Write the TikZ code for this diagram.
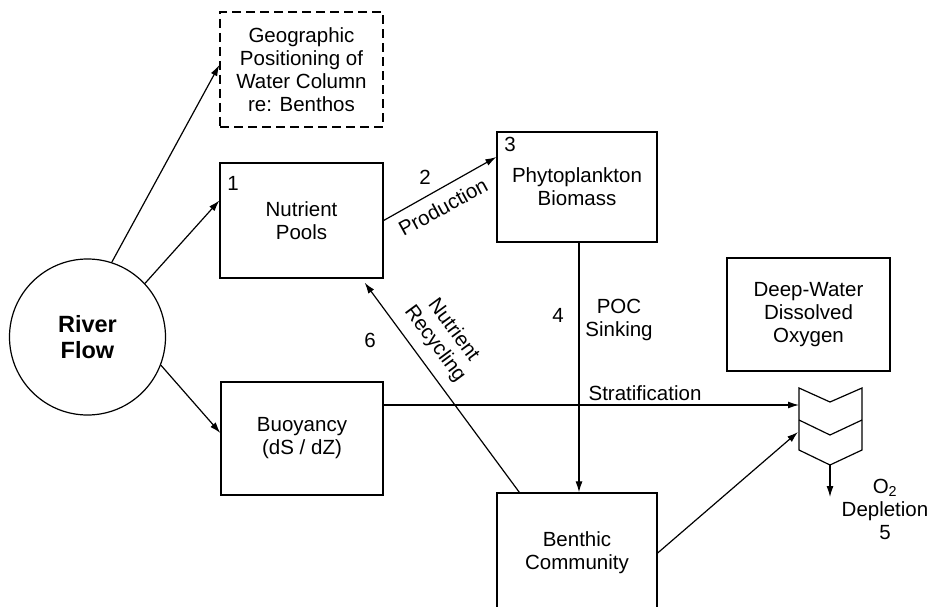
\documentclass[tikz,border=0pt]{standalone}
\usepackage{fontspec}
\setmainfont{Liberation Sans}
\usetikzlibrary{arrows.meta,calc}
\begin{document}
\begin{tikzpicture}[x=1pt,y=-1pt,
  every node/.style={font=\fontsize{20.5}{23}\selectfont, inner sep=0pt},
  box/.style={draw, line width=1.3pt, minimum width=163pt, align=center},
  arr/.style={line width=1.2pt, -{Latex[length=11pt,width=7pt]}},
  plainline/.style={line width=1.2pt, line join=miter}]
\useasboundingbox (0,0) rectangle (929,607);
% boxes
\node[box, dash pattern=on 9pt off 5pt, minimum height=115pt] (geo) at (301.5,69.5) {Geographic\\Positioning of\\Water Column\\re: Benthos};
\node[box, minimum height=115pt] (nut) at (301.5,220.5) {Nutrient\\Pools};
\node[box, minimum width=160pt, minimum height=110pt] (phy) at (577,187) {Phytoplankton\\Biomass};
\node[box, minimum height=113pt] (deep) at (808.5,314.5) {Deep-Water\\Dissolved\\Oxygen};
\node[box, minimum width=162pt, minimum height=113pt] (buoy) at (302,438.5) {Buoyancy\\(dS / dZ)};
\node[box, minimum width=160pt, minimum height=120pt] (ben) at (577,553) {Benthic\\Community};
\node[circle, draw, line width=1.2pt, minimum size=156pt, align=center,
      font=\bfseries\fontsize{23.5}{26}\selectfont] (river) at (87.5,337) {River\\Flow};
% chevron (oxygen depletion symbol)
\draw[plainline] (799,388) -- (830,402) -- (862,388) -- (862,450) -- (830,465) -- (799,450) -- cycle;
\draw[plainline] (799,420) -- (830,435) -- (862,420);
\coordinate (chA) at (799,405);
\coordinate (chB) at (798,432);
\coordinate (chT) at (830,465);
\coordinate (chO) at (830,497);
% connectors
\draw[arr] (river.72) -- ([yshift=4.5pt]geo.west);
\draw[arr] (river.43) -- ([yshift=20pt]nut.west);
\draw[arr] (river.-21) -- ([yshift=5.5pt]buoy.west);
\draw[arr] (nut.east) -- ([yshift=30pt]phy.west);
\draw[arr] ([xshift=2pt]phy.south) -- ([xshift=2pt]ben.north);
\draw[arr] ([yshift=33.5pt]buoy.east) -- (chA);
\draw[arr] (ben.east) -- (chB);
\draw[arr] ([xshift=23pt]ben.north west) -- ([xshift=-19pt,yshift=-4pt]nut.south east);
\draw[arr] (chT) -- (chO);
% labels
\node (n1) at (233,183) {1};
\node (n3) at (510,144) {3};
\node (n2) at (425,177) {2};
\node[rotate=28.7] (prod) at (443,207) {Production};
\node[rotate=-53.5, align=center] (recyc) at (444,337) {Nutrient\\Recycling};
\node (n6) at (370,340) {6};
\node (n4) at (558,315) {4};
\node[align=center] (poc) at (619,320) {POC\\Sinking};
\node (strat) at (645,393) {Stratification};
\node[align=center] (o2) at (885,509) {O\textsubscript{2}\\Depletion\\5};
\end{tikzpicture}
\end{document}
